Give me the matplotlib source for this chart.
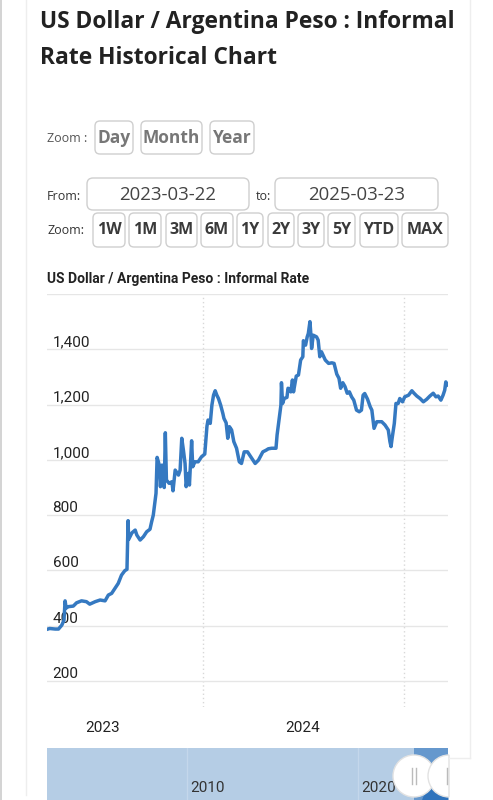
import matplotlib
matplotlib.use('Agg')
import matplotlib.pyplot as plt
import matplotlib.dates as mdates
from matplotlib.patches import FancyBboxPatch, Circle, Wedge, Rectangle
from matplotlib.ticker import NullFormatter
import pandas as pd

# ---- data ----
dates = ['2023-03-22', '2023-03-27', '2023-04-06', '2023-04-12', '2023-04-18', '2023-04-22',
         '2023-04-24', '2023-04-26', '2023-04-30', '2023-05-09', '2023-05-15', '2023-05-24',
         '2023-06-02', '2023-06-08', '2023-06-18', '2023-06-27', '2023-07-06', '2023-07-12',
         '2023-07-18', '2023-07-24', '2023-07-30', '2023-08-05', '2023-08-11', '2023-08-15',
         '2023-08-17', '2023-08-18', '2023-08-24', '2023-08-30', '2023-09-02', '2023-09-08',
         '2023-09-14', '2023-09-20', '2023-09-26', '2023-09-29', '2023-10-02', '2023-10-07',
         '2023-10-09', '2023-10-13', '2023-10-15', '2023-10-18', '2023-10-22', '2023-10-24',
         '2023-10-26', '2023-10-31', '2023-11-05', '2023-11-07', '2023-11-11', '2023-11-17',
         '2023-11-20', '2023-11-23', '2023-11-26', '2023-11-29', '2023-12-01', '2023-12-05',
         '2023-12-07', '2023-12-11', '2023-12-13', '2023-12-17', '2023-12-23', '2023-12-29',
         '2024-01-04', '2024-01-08', '2024-01-10', '2024-01-14', '2024-01-17', '2024-01-20',
         '2024-01-23', '2024-01-26', '2024-01-29', '2024-02-02', '2024-02-06', '2024-02-08',
         '2024-02-12', '2024-02-15', '2024-02-18', '2024-02-22', '2024-02-26', '2024-03-02',
         '2024-03-07', '2024-03-11', '2024-03-16', '2024-03-22', '2024-03-30', '2024-04-05',
         '2024-04-11', '2024-04-19', '2024-04-25', '2024-04-29', '2024-05-05', '2024-05-13',
         '2024-05-15', '2024-05-19', '2024-05-22', '2024-05-23', '2024-05-25', '2024-05-28',
         '2024-06-02', '2024-06-04', '2024-06-09', '2024-06-12', '2024-06-14', '2024-06-19',
         '2024-06-23', '2024-06-27', '2024-07-01', '2024-07-02', '2024-07-06', '2024-07-09',
         '2024-07-11', '2024-07-14', '2024-07-16', '2024-07-17', '2024-07-20', '2024-07-26',
         '2024-07-29', '2024-08-01', '2024-08-04', '2024-08-11', '2024-08-17', '2024-08-23',
         '2024-08-27', '2024-09-01', '2024-09-05', '2024-09-08', '2024-09-12', '2024-09-16',
         '2024-09-20', '2024-09-24', '2024-09-28', '2024-10-02', '2024-10-07', '2024-10-12',
         '2024-10-16', '2024-10-19', '2024-10-22', '2024-10-27', '2024-11-01', '2024-11-04',
         '2024-11-07', '2024-11-08', '2024-11-13', '2024-11-22', '2024-11-28', '2024-12-04',
         '2024-12-07', '2024-12-09', '2024-12-11', '2024-12-15', '2024-12-18', '2024-12-22',
         '2024-12-25', '2024-12-30', '2025-01-03', '2025-01-10', '2025-01-16', '2025-01-20',
         '2025-01-25', '2025-01-31', '2025-02-06', '2025-02-12', '2025-02-18', '2025-02-24',
         '2025-03-01', '2025-03-05', '2025-03-10', '2025-03-14', '2025-03-17', '2025-03-19',
         '2025-03-22']
rates = [387, 390, 388, 388, 402, 420,
         490, 464, 469, 471, 483, 490,
         487, 478, 487, 493, 490, 511,
         517, 535, 553, 583, 599, 604,
         780, 712, 736, 746, 728, 710,
         722, 740, 749, 776, 800, 879,
         1009, 981, 903, 981, 900, 1098,
         927, 915, 921, 888, 963, 945,
         963, 1078, 1035, 987, 903, 951,
         909, 1069, 975, 993, 993, 1011,
         1021, 1122, 1144, 1132, 1198, 1234,
         1250, 1234, 1222, 1198, 1168, 1150,
         1134, 1078, 1120, 1108, 1066, 1042,
         993, 987, 1029, 1029, 1005, 987,
         999, 1029, 1035, 1040, 1042, 1042,
         1090, 1150, 1198, 1279, 1204, 1222,
         1226, 1259, 1246, 1289, 1246, 1303,
         1307, 1361, 1373, 1431, 1415, 1445,
         1457, 1500, 1445, 1403, 1451, 1445,
         1433, 1373, 1391, 1361, 1349, 1351,
         1349, 1310, 1295, 1259, 1279, 1265,
         1241, 1246, 1228, 1216, 1180, 1174,
         1180, 1234, 1240, 1220, 1192, 1180,
         1130, 1114, 1138, 1138, 1126, 1108,
         1066, 1048, 1078, 1132, 1204, 1204,
         1222, 1210, 1228, 1234, 1250, 1241,
         1231, 1222, 1210, 1219, 1231, 1241,
         1228, 1231, 1216, 1234, 1252, 1282,
         1271]

ytick_vals = [200, 400, 600, 800, 1000, 1200, 1400, 1600]
ytick_text = ['200', '400', '600', '800', '1,000', '1,200', '1,400', '']

# navigator (full history, rough values)
nav_dates = ['2001-11-01', '2004-01-01', '2008-01-01', '2012-01-01', '2014-01-01', '2016-01-01',
             '2018-01-01', '2019-06-01', '2020-06-01', '2021-06-01', '2022-06-01', '2023-03-22',
             '2023-10-01', '2024-06-01', '2025-03-23']
nav_rates = [3, 3, 3.2, 6.5, 12, 15, 20, 55, 130, 170, 230, 390, 900, 1300, 1280]
nav_labels = ['2010', '2020']

unit_buttons = ['Day', 'Month', 'Year']
range_buttons = ['1W', '1M', '3M', '6M', '1Y', '2Y', '3Y', '5Y', 'YTD', 'MAX']
date_from = '2023-03-22'
date_to = '2025-03-23'

W, H = 493, 800
fig = plt.figure(figsize=(W / 100, H / 100), dpi=100)
fig.patch.set_facecolor('white')


def box(x0, y0, x1, y1):
    # pixel box (top-left origin) -> figure fraction rect
    return [x0 / W, 1 - y1 / H, (x1 - x0) / W, (y1 - y0) / H]


# ---- main chart ----
ax = fig.add_axes(box(47, 294, 448, 707))
ax.plot(pd.to_datetime(dates), rates, color='#3579c1', lw=2.5,
        solid_joinstyle='round', zorder=3)
ax.set_xlim(pd.Timestamp(date_from), pd.Timestamp(date_to))
ax.set_ylim(106, 1600)
ax.set_yticks(ytick_vals)
ax.set_yticklabels(ytick_text)
ax.tick_params(axis='y', length=0, pad=-4, labelsize=11, labelcolor='#222222')
for lbl in ax.get_yticklabels():
    lbl.set_horizontalalignment('left')
    lbl.set_verticalalignment('bottom')
    lbl.set_fontfamily('Roboto')
ax.xaxis.set_major_locator(mdates.YearLocator())
ax.xaxis.set_major_formatter(NullFormatter())
ax.xaxis.set_minor_locator(mdates.MonthLocator(bymonth=7))
ax.xaxis.set_minor_formatter(mdates.DateFormatter('%Y'))
ax.tick_params(axis='x', which='both', length=0, pad=10, labelsize=11, labelcolor='#222222')
for lbl in ax.get_xticklabels(minor=True):
    lbl.set_fontfamily('Roboto')
ax.grid(axis='y', color='#e6e6e6', lw=1)
ax.grid(axis='x', which='major', color='#d8d8d8', lw=1, ls=(0, (1, 2)))
for s in ax.spines.values():
    s.set_visible(False)

# ---- navigator ----
nav = fig.add_axes(box(47, 748, 448, 840))
nav.set_facecolor('#b5cde5')
nd = pd.to_datetime(nav_dates)
nav.set_xlim(pd.Timestamp('2001-11-01'), pd.Timestamp(date_to))
nav.set_ylim(0, 1900)
for lab in nav_labels:
    nav.axvline(pd.Timestamp(lab + '-01-01'), color='#c4d7eb', lw=1)
nav.axvspan(pd.Timestamp(date_from), pd.Timestamp(date_to), color='#6698cd', lw=0)
nav.fill_between(nd, nav_rates, color='#2f73bc', lw=0)
for lab in nav_labels:
    nav.text(pd.Timestamp(lab + '-03-01'), 0.57, lab, transform=nav.get_xaxis_transform(),
             fontsize=11, color='#333333', family='Roboto', va='center', ha='left')
nav.set_xticks([])
nav.set_yticks([])
for s in nav.spines.values():
    s.set_visible(False)

# ---- page overlay (pixel coords) ----
ov = fig.add_axes([0, 0, 1, 1], zorder=10)
ov.set_xlim(0, W)
ov.set_ylim(H, 0)
ov.axis('off')
ov.patch.set_alpha(0)

ov.add_patch(Rectangle((0, 0), 2, H, color='#d4d4d4', lw=0))
ov.plot([26, 26], [0, 795], color='#eeeeee', lw=1)
ov.plot([470, 470], [0, 758], color='#eeeeee', lw=1)
ov.plot([449, 470], [758, 758], color='#eeeeee', lw=1)

ov.text(40, 22, 'US Dollar / Argentina Peso : Informal', fontsize=16.4, fontweight='bold',
        family='Open Sans', color='#222222', va='center', ha='left')
ov.text(40, 58, 'Rate Historical Chart', fontsize=16.4, fontweight='bold',
        family='Open Sans', color='#222222', va='center', ha='left')


def button(x0, y0, x1, y1, label, size, color, weight='bold', r=5):
    ov.add_patch(FancyBboxPatch((x0, y0), x1 - x0, y1 - y0,
                                boxstyle='round,pad=0,rounding_size=%d' % r,
                                fc='white', ec='#cfcfcf', lw=1))
    ov.text((x0 + x1) / 2, (y0 + y1) / 2 + 0.5, label, fontsize=size, fontweight=weight,
            family='Open Sans', color=color, ha='center', va='center')


ov.text(47, 138, 'Zoom :', fontsize=9, family='Open Sans', color='#555555', va='center')
unit_x = [(95, 133), (141, 202), (210, 254)]
for (x0, x1), lab in zip(unit_x, unit_buttons):
    button(x0, 121, x1, 154, lab, 12.5, '#777777')

ov.text(47, 196, 'From:', fontsize=9, family='Open Sans', color='#333333', va='center')
button(87, 178, 249, 210, date_from, 13.4, '#444444', weight='normal', r=6)
ov.text(256, 196, 'to:', fontsize=9, family='Open Sans', color='#333333', va='center')
button(275, 178, 438, 210, date_to, 13.4, '#444444', weight='normal', r=6)

ov.text(47, 231, 'Zoom:', fontsize=9, family='Open Sans', color='#333333', va='center')
range_x = [(93, 125), (129, 161), (166, 197), (201, 233), (237, 263), (268, 294),
           (298, 324), (328, 355), (360, 398), (402, 448)]
for (x0, x1), lab in zip(range_x, range_buttons):
    button(x0, 213, x1, 247, lab, 11.5, '#3a3a3a')

ov.text(47, 279, 'US Dollar / Argentina Peso : Informal Rate', fontsize=10, fontweight='bold',
        family='Roboto', color='#222222', va='center', ha='left')

# navigator handles
ov.add_patch(Circle((414, 776), 21, fc='white', ec='#e2e2e2', lw=1))
ov.plot([412, 412], [768, 784], color='#bbbbbb', lw=1)
ov.plot([416, 416], [768, 784], color='#bbbbbb', lw=1)
ov.add_patch(Wedge((449, 776), 21, 90, 270, fc='white', ec='#e2e2e2', lw=1))
ov.plot([447, 447], [768, 784], color='#bbbbbb', lw=1)

fig.savefig('out.png', dpi=100, facecolor='white')
